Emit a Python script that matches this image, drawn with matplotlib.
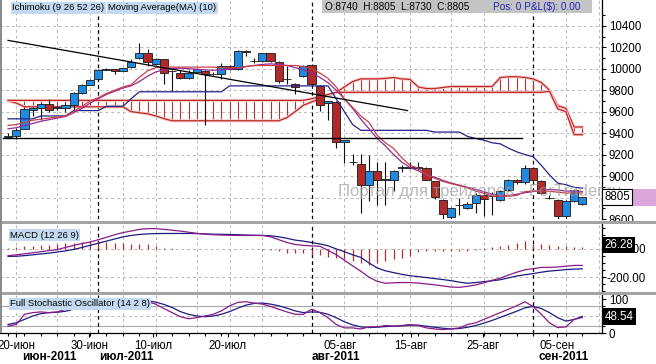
import matplotlib.pyplot as plt
from matplotlib.patches import Rectangle

plt.rcParams['font.family'] = ['Liberation Sans', 'DejaVu Sans']

# Daily candles (index 0..70)
opens = [9365, 9374, 9441, 9620, 9638, 9669, 9635, 9632, 9663, 9773,
         9850, 9902, 9990, 9994, 9979, 10016, 10102, 10148, 10040, 10093,
         9975, 9964, 9918, 9970, 9979, 9950, 9948, 10025, 10000, 10165,
         10070, 10071, 10142, 10065, 9900, 9862, 9933, 10031, 9835, 9680,
         9693, 9318, 9135, 9110, 8913, 9048, 8965, 8965, 9075, 9080,
         9075, 9079, 8950, 8781, 8615, 8730, 8705, 8750, 8827, 8810,
         8781, 8873, 8965, 8944, 9079, 8956, 8800, 8781, 8630, 8772, 8740]
highs = [9405, 9447, 9645, 9645, 9680, 9718, 9660, 9681, 9780, 9855,
         9900, 10000, 10005, 10000, 10010, 10093, 10240, 10180, 10100, 10095,
         9985, 9985, 9985, 10010, 9990, 9970, 10055, 10030, 10173, 10175,
         10100, 10150, 10150, 10075, 10025, 9870, 10035, 10035, 9845, 9700,
         9700, 9340, 9210, 9210, 9195, 9135, 9135, 9060, 9105, 9135,
         9135, 9085, 8955, 8790, 8715, 8800, 8760, 8840, 8860, 8850,
         8870, 8975, 8975, 9105, 9085, 8960, 8820, 8790, 8780, 8880, 8805]
lows = [9350, 9349, 9435, 9560, 9520, 9595, 9620, 9595, 9600, 9765,
        9845, 9895, 9985, 9948, 9975, 10010, 10095, 10025, 10030, 9856,
        9795, 9900, 9905, 9960, 9472, 9940, 9900, 9990, 9990, 10120,
        10055, 10060, 10060, 9870, 9856, 9764, 9920, 9850, 9610, 9520,
        9257, 9120, 9100, 8660, 8765, 8735, 8735, 8860, 9042, 9070,
        9060, 8960, 8790, 8600, 8600, 8640, 8690, 8660, 8630, 8640,
        8770, 8860, 8930, 8930, 8950, 8830, 8790, 8600, 8600, 8760, 8730]
closes = [9374, 9432, 9626, 9630, 9669, 9617, 9640, 9663, 9770, 9847,
          9893, 9988, 9995, 9979, 10004, 10065, 10148, 10065, 10093, 9964,
          9980, 9918, 9964, 10000, 9948, 9955, 10025, 10000, 10163, 10160,
          10075, 10142, 10071, 9881, 9905, 9825, 10025, 9856, 9663, 9695,
          9318, 9334, 9130, 8919, 9048, 8965, 8970, 9048, 9080, 9075,
          9080, 8965, 8802, 8643, 8705, 8735, 8740, 8827, 8790, 8815,
          8858, 8965, 8944, 9079, 8965, 8842, 8795, 8627, 8766, 8873, 8805]

# Ichimoku / MA lines
tenkan = [9472, 9480, 9500, 9520, 9530, 9540, 9550, 9560, 9600, 9650,
          9700, 9730, 9770, 9800, 9830, 9850, 9920, 9980, 10010, 10015,
          10015, 10015, 10015, 10015, 10015, 10015, 10010, 10010, 10010, 10020,
          10030, 10030, 10030, 10030, 10030, 10030, 10020, 10000, 9960, 9910,
          9830, 9720, 9640, 9560, 9500, 9380, 9310, 9257, 9170, 9100,
          9073, 9011, 8980, 8950, 8930, 8910, 8890, 8860, 8840, 8815,
          8812, 8812, 8820, 8855, 8862, 8862, 8858, 8850, 8842, 8842, 8842]
ma10 = [9440, 9450, 9470, 9490, 9510, 9525, 9540, 9555, 9590, 9630,
        9680, 9720, 9760, 9790, 9820, 9840, 9880, 9930, 9970, 9990,
        10000, 10005, 10000, 9995, 9990, 9985, 9990, 9995, 10005, 10020,
        10030, 10040, 10045, 10040, 10030, 10010, 9990, 9960, 9920, 9870,
        9800, 9720, 9630, 9530, 9440, 9350, 9280, 9200, 9130, 9080,
        9050, 9010, 8990, 8960, 8935, 8915, 8895, 8875, 8855, 8830,
        8820, 8820, 8830, 8845, 8855, 8870, 8875, 8870, 8860, 8860, 8855]
kijun = [9533, 9533, 9533, 9533, 9560, 9560, 9560, 9560, 9610, 9610,
         9610, 9610, 9650, 9650, 9650, 9720, 9785, 9785, 9785, 9785,
         9785, 9785, 9785, 9785, 9785, 9785, 9785, 9840, 9840, 9840,
         9840, 9840, 9840, 9840, 9840, 9840, 9840, 9840, 9840, 9840,
         9720, 9600, 9480, 9426, 9426, 9426, 9426, 9426, 9426, 9426,
         9426, 9426, 9410, 9410, 9410, 9410, 9370, 9350, 9334, 9310,
         9300, 9260, 9226, 9200, 9180, 9100, 9011, 8934, 8919, 8895, 8888]
span_a = [9700, 9680, 9645, 9645, 9645, 9645, 9645, 9645, 9645, 9645,
          9645, 9645, 9645, 9645, 9645, 9600, 9590, 9580, 9560, 9535,
          9515, 9515, 9515, 9515, 9515, 9515, 9515, 9515, 9515, 9515,
          9515, 9515, 9515, 9515, 9545, 9600, 9660, 9690, 9720, 9750,
          9780, 9830, 9880, 9905, 9905, 9905, 9910, 9918, 9905, 9900,
          9830, 9815, 9815, 9825, 9834, 9834, 9834, 9834, 9834, 9834,
          9918, 9925, 9925, 9918, 9905, 9872, 9800, 9656, 9630, 9457, 9457]
span_b = [9705] * 37 + [9720, 9740, 9760] + [9780] * 26 + [9790, 9626, 9600, 9386, 9386]

# user trend lines (index, price)
trend_x = [0, 48.7]
trend_y = [10264, 9610]
level_x = [-0.65, 62.7]
level_y = [9358, 9358]

# MACD (12 26 9)
macd = [-48, -42, -35, -28, -20, -12, -5, 10, 25, 38,
        48, 65, 82, 100, 115, 126, 138, 143, 143, 138,
        132, 126, 118, 110, 104, 100, 98, 96, 95, 95,
        95, 95, 85, 65, 45, 31, 25, 21, 19, -10,
        -41, -80, -120, -158, -200, -230, -243, -240, -238, -238,
        -242, -248, -254, -262, -270, -272, -265, -255, -240, -222,
        -207, -185, -165, -148, -140, -131, -131, -128, -122, -117, -117]
signal = [-53, -52, -48, -42, -36, -30, -22, -14, -4, 10,
          25, 40, 55, 70, 85, 95, 102, 106, 108, 109,
          109, 109, 109, 108, 106, 104, 103, 102, 100, 98,
          96, 95, 93, 85, 75, 62, 55, 45, 35, 22,
          0, -20, -42, -60, -100, -135, -155, -168, -180, -190,
          -196, -203, -210, -217, -225, -235, -243, -238, -232, -226,
          -218, -205, -192, -183, -175, -165, -157, -152, -147, -143, -141]
hist = [5, 15, 18, 22, 25, 30, 35, 40, 43, 48,
        55, 55, 50, 45, 40, 38, 35, 31, 19, 5,
        3, 2, 2, 2, 2, 2, 2, 2, -2, -2,
        -3, -5, -10, -17, -29, -30, -32, -40, -45, -55,
        -64, -75, -88, -100, -112, -100, -88, -75, -64, -48,
        -20, -17, -17, -15, -15, -15, -12, -8, 5, 15,
        22, 30, 43, 55, 31, 38, 30, 20, 17, 14, 14]

# Full Stochastic (14 2 8)
stoch_k = [20, 25, 55, 60, 62, 60, 62, 70, 80, 88,
           92, 96, 98, 97, 97, 98, 98, 92, 85, 72,
           60, 48, 42, 45, 50, 55, 65, 80, 90, 92,
           88, 85, 78, 70, 62, 55, 55, 70, 60, 45,
           25, 15, 15, 12, 18, 18, 22, 20, 22, 25,
           22, 15, 12, 10, 12, 15, 25, 30, 40, 50,
           60, 70, 80, 92, 78, 55, 30, 16, 18, 40, 49]
stoch_d = [25, 30, 40, 50, 57, 60, 61, 64, 70, 78,
           85, 90, 94, 96, 97, 97, 97, 95, 91, 84,
           75, 63, 55, 50, 48, 50, 55, 63, 73, 82,
           87, 88, 85, 80, 73, 65, 60, 62, 61, 55,
           45, 33, 24, 18, 16, 17, 19, 20, 21, 23,
           23, 20, 17, 14, 12, 13, 17, 22, 29, 37,
           46, 55, 64, 74, 78, 72, 60, 45, 35, 40, 46]

# time axis
day_pos = [1.0, 9.9, 17.7, 26.8, 40.5, 49.1, 57.9, 66.9]
day_labels = ['20-июн', '30-июн', '10-июл', '20-июл', '05-авг', '15-авг', '25-авг', '05-сен']
month_pos = [5.0, 14.4, 40.0, 67.7]
month_labels = ['июн-2011', 'июл-2011', 'авг-2011', 'сен-2011']
grid_x = [1, 6, 10, 14, 18, 23, 27, 31, 41, 45, 49, 54, 58, 68, 72]
month_x = [11, 37.1, 64]

idx = list(range(len(opens)))

W, H = 656.0, 364.0
fig = plt.figure(figsize=(6.56, 3.64), dpi=100)


def panel(top, bottom):
    return fig.add_axes([0, 1 - bottom / H, 602 / W, (bottom - top) / H])


def style(ax):
    for s in ['left', 'top', 'bottom']:
        ax.spines[s].set_visible(False)
    ax.spines['right'].set_linewidth(0.9)
    ax.yaxis.tick_right()
    ax.set_xlim(-0.98, 72.4)
    ax.tick_params(axis='x', which='both', bottom=False, labelbottom=False)
    ax.tick_params(axis='y', which='both', direction='out', width=0.8,
                   length=3, labelsize=8.3, pad=2)
    ax.tick_params(axis='y', which='minor', length=2)
    for g in grid_x:
        ax.axvline(g, color='#b8b8b8', lw=0.7, ls=(0, (3, 3)), zorder=0)
    for m in month_x:
        ax.axvline(m, color='black', lw=0.9, ls=(0, (3, 2.5)), zorder=1)


ax1 = panel(0, 219)
ax2 = panel(224, 292)
ax3 = panel(295, 333)
for a in (ax1, ax2, ax3):
    style(a)

# ---- price panel ----
ax1.set_ylim(8621, 10640)
ax1.set_yticks(range(8600, 10600, 200))
ax1.set_yticks(range(8700, 10600, 200), minor=True)
for p in range(8600, 10600, 200):
    ax1.axhline(p, color='#b8b8b8', lw=0.7, ls=(0, (3, 3)), zorder=0)

# cloud
lo = [min(a, b) for a, b in zip(span_a, span_b)]
hi = [max(a, b) for a, b in zip(span_a, span_b)]
ax1.vlines(idx, lo, hi, color='#b83030', lw=0.8, zorder=2)
for s in (span_a, span_b):
    ax1.plot(idx, s, color='#f6cccc', lw=2.2, zorder=2)
    ax1.plot(idx, s, color='#c02828', lw=0.9, zorder=2)

# candles
colors = ['#1f8ae0' if c >= o else '#b02a2a' for o, c in zip(opens, closes)]
bottoms = [min(o, c) for o, c in zip(opens, closes)]
heights = [max(abs(c - o), 3) for o, c in zip(opens, closes)]
ax1.vlines(idx, lows, highs, color='#101010', lw=0.8, zorder=3)
ax1.bar(idx, heights, bottom=bottoms, width=1.0, color=colors,
        edgecolor='#1a1a1a', linewidth=0.6, zorder=4)

# indicator lines
ax1.plot(idx, kijun, color='#23238c', lw=0.9, zorder=5)
ax1.plot(idx, ma10, color='#962a96', lw=0.9, zorder=5)
ax1.plot(idx, tenkan, color='#c8404a', lw=0.9, zorder=5)
ax1.plot(trend_x, trend_y, color='black', lw=0.9, zorder=6)
ax1.plot(level_x, level_y, color='black', lw=1.0, zorder=6)

# watermark, semi-transparent over the candles
ax1.text(338 / W, 1 - 191 / H, 'Портал для трейдеров - ForTrader.ru', fontsize=12,
         color='#9c9c9c', alpha=0.7, va='center', ha='left',
         transform=fig.transFigure, clip_on=False, zorder=7)

# last price marker
tr1 = ax1.get_yaxis_transform()
ax1.add_patch(Rectangle((1.0, 8723), 54 / 602, 157, transform=tr1,
                        fc='#dca6dc', ec='none', clip_on=False, zorder=8))
ax1.text(1.004, 8805, '8805', transform=tr1, fontsize=8.3, va='center', ha='left',
         bbox=dict(boxstyle='square,pad=0.2', fc='white', ec='black', lw=0.8),
         clip_on=False, zorder=9)

# ---- MACD panel ----
ax2.set_ylim(-305, 176)
ax2.set_yticks([0, -200])
ax2.set_yticklabels(['0.00', '-200.00'], ha='right')
ax2.tick_params(axis='y', pad=28.5)
ax2.set_yticks(range(-300, 200, 50), minor=True)
ax2.axhline(0, color='#b8b8b8', lw=0.7, ls=(0, (3, 3)), zorder=0)
ax2.axhline(-200, color='#b8b8b8', lw=0.7, ls=(0, (3, 3)), zorder=0)
ax2.vlines(idx, 0, hist, color='#b03030', lw=0.9, zorder=2)
ax2.plot(idx, signal, color='#1c1c80', lw=0.9, zorder=3)
ax2.plot(idx, macd, color='#8a1a8a', lw=0.9, zorder=3)
ax2.text(1.004, 26.28, '26.28', transform=ax2.get_yaxis_transform(), fontsize=8.3,
         color='white', va='center', ha='left',
         bbox=dict(boxstyle='square,pad=0.2', fc='black', ec='none'),
         clip_on=False, zorder=9)

# ---- stochastic panel ----
ax3.set_ylim(0, 111.8)
ax3.set_yticks([0, 100])
ax3.set_yticks(range(0, 110, 20), minor=True)
ax3.axhline(20, color='#a8a8a8', lw=0.8, zorder=0)
ax3.axhline(80, color='#a8a8a8', lw=0.8, zorder=0)
ax3.axhline(50, color='#b8b8b8', lw=0.7, ls=(0, (3, 3)), zorder=0)
ax3.plot(idx, stoch_d, color='#1c1c80', lw=0.9, zorder=3)
ax3.plot(idx, stoch_k, color='#8a1a8a', lw=0.9, zorder=3)
ax3.text(1.004, 48.54, '48.54', transform=ax3.get_yaxis_transform(), fontsize=8.3,
         color='white', va='center', ha='left',
         bbox=dict(boxstyle='square,pad=0.2', fc='black', ec='none'),
         clip_on=False, zorder=9)

# time axis under the last panel
ax3.spines['bottom'].set_visible(True)
ax3.spines['bottom'].set_linewidth(0.9)
ax3.tick_params(axis='x', which='both', bottom=True, labelbottom=True,
                direction='out', length=3, width=0.8, labelsize=8.3, pad=2)
ax3.set_xticks(day_pos)
ax3.set_xticklabels(day_labels)
ax3.set_xticks(range(0, 72, 2), minor=True)
ax3.tick_params(axis='x', which='minor', length=2)
for x, lab in zip(month_pos, month_labels):
    ax3.text(x, -0.63, lab, transform=ax3.get_xaxis_transform(), fontsize=8.5,
             fontweight='bold', ha='center', va='center')

# panel separators and border
fig.patches.append(Rectangle((0, 1 - 224 / H), 1, 3.5 / H, transform=fig.transFigure,
                             fc='#a4a4a4', ec='none'))
fig.patches.append(Rectangle((0, 1 - 295 / H), 1, 3 / H, transform=fig.transFigure,
                             fc='#a4a4a4', ec='none'))
fig.patches.append(Rectangle((0, 1 - 333 / H), 1.5 / W, 333 / H, transform=fig.transFigure,
                             fc='#8c8c8c', ec='none'))

# header texts
lbl = dict(boxstyle='square,pad=0.15', fc='#c3daf0', ec='none')
fig.text(12 / W, 1 - 8 / H, 'Ichimoku (9 26 52 26)', fontsize=6.8, va='center', bbox=lbl)
fig.text(108 / W, 1 - 8 / H, 'Moving Average(MA) (10)', fontsize=6.8, va='center', bbox=lbl)
fig.text(10 / W, 1 - 235 / H, 'MACD (12 26 9)', fontsize=6.8, va='center', bbox=lbl)
fig.text(10 / W, 1 - 304 / H, 'Full Stochastic Oscillator (14 2 8)', fontsize=6.8,
         va='center', bbox=lbl)
fig.patches.append(Rectangle((322 / W, 1 - 13 / H), 270 / W, 13 / H, transform=fig.transFigure,
                             fc='#c4c4c4', ec='none'))
fig.text(325 / W, 1 - 6.5 / H, 'O:8740  H:8805  L:8730  C:8805', fontsize=7.2, va='center')
fig.text(493 / W, 1 - 6.5 / H, 'Pos: 0 P&L(\\$): 0.00', fontsize=7.2, va='center',
         color='#2424b4')

fig.savefig('out.png', dpi=100)
